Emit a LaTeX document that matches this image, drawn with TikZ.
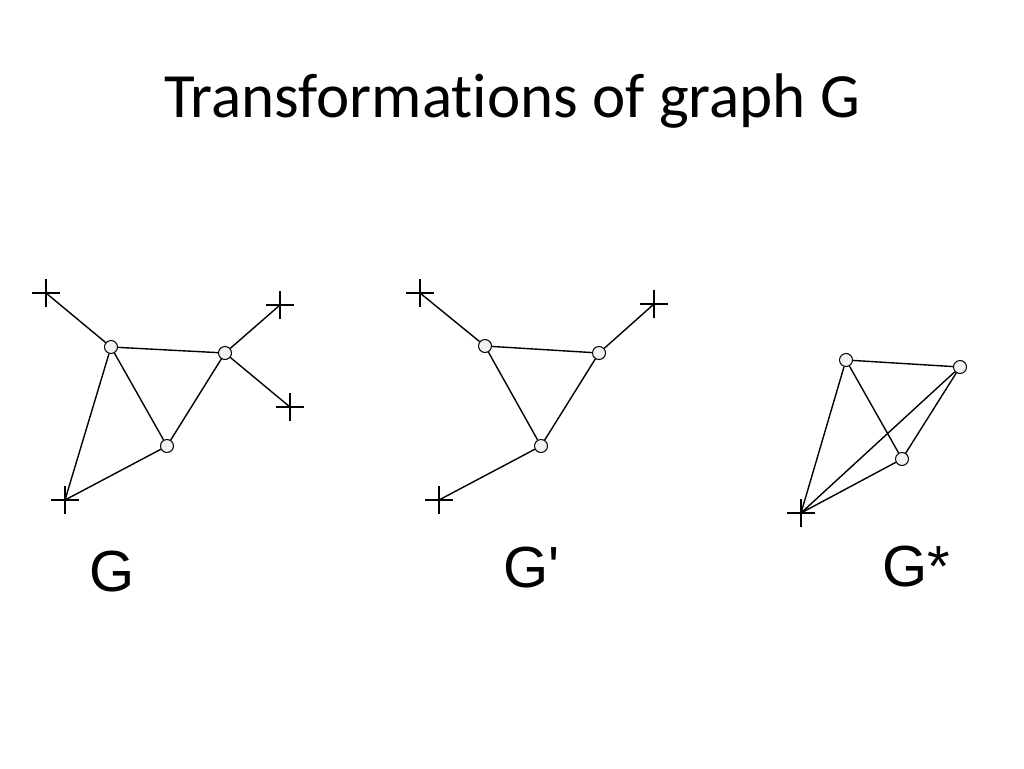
\documentclass[tikz,border=0pt]{standalone}
\usepackage{fontspec}
\setmainfont{Liberation Sans}
\newfontfamily\titlefont[Ligatures={NoCommon}]{Carlito}
\usetikzlibrary{shapes.misc}
\begin{document}
\begin{tikzpicture}[x=1pt,y=-1pt,
  vtx/.style={circle,draw=black,fill=gray!10,line width=1pt,minimum size=13pt,inner sep=0pt},
  crossmark/.style={cross out,draw=black,line width=1.4pt,rotate=45,minimum size=18.5pt,inner sep=0pt},
  edge/.style={draw=black,line width=1.4pt},
  lbl/.style={anchor=base west,inner sep=0pt,font=\fontsize{58}{60}\selectfont}]
\useasboundingbox (0,0) rectangle (1024,768);
\node[anchor=base,inner sep=0pt,font=\titlefont\fontsize{63}{70}\selectfont] (title) at (512,117) {Transformations of graph G};
% Graph G
\node[crossmark] (g1x1) at (46,293) {};
\node[crossmark] (g1x2) at (280,305) {};
\node[crossmark] (g1x3) at (290,407) {};
\node[crossmark] (g1x4) at (65,500) {};
\node[vtx] (g1a) at (111,347) {};
\node[vtx] (g1b) at (225,353) {};
\node[vtx] (g1c) at (167,446) {};
\path[edge] (g1x1.center) -- (g1a) (g1a) -- (g1b) (g1b) -- (g1x2.center) (g1b) -- (g1x3.center)
  (g1a) -- (g1c) (g1b) -- (g1c) (g1a) -- (g1x4.center) (g1c) -- (g1x4.center);
% Graph G'
\node[crossmark] (g2x1) at (420,293) {};
\node[crossmark] (g2x2) at (654,304) {};
\node[crossmark] (g2x3) at (439,500) {};
\node[vtx] (g2a) at (485,346) {};
\node[vtx] (g2b) at (599,353) {};
\node[vtx] (g2c) at (541,446) {};
\path[edge] (g2x1.center) -- (g2a) (g2a) -- (g2b) (g2b) -- (g2x2.center)
  (g2a) -- (g2c) (g2b) -- (g2c) (g2c) -- (g2x3.center);
% Graph G*
\node[crossmark] (g3x1) at (801,513) {};
\node[vtx] (g3a) at (846,360) {};
\node[vtx] (g3b) at (960,367) {};
\node[vtx] (g3c) at (902,459) {};
\path[edge] (g3a) -- (g3b) (g3a) -- (g3c) (g3b) -- (g3c)
  (g3a) -- (g3x1.center) (g3b) -- (g3x1.center) (g3c) -- (g3x1.center);
% labels
\node[lbl] (lg) at (89,591) {G};
\node[lbl] (lg2) at (503,587) {G\textquotesingle};
\node[lbl] (lg3) at (882,586) {G*};
\end{tikzpicture}
\end{document}
